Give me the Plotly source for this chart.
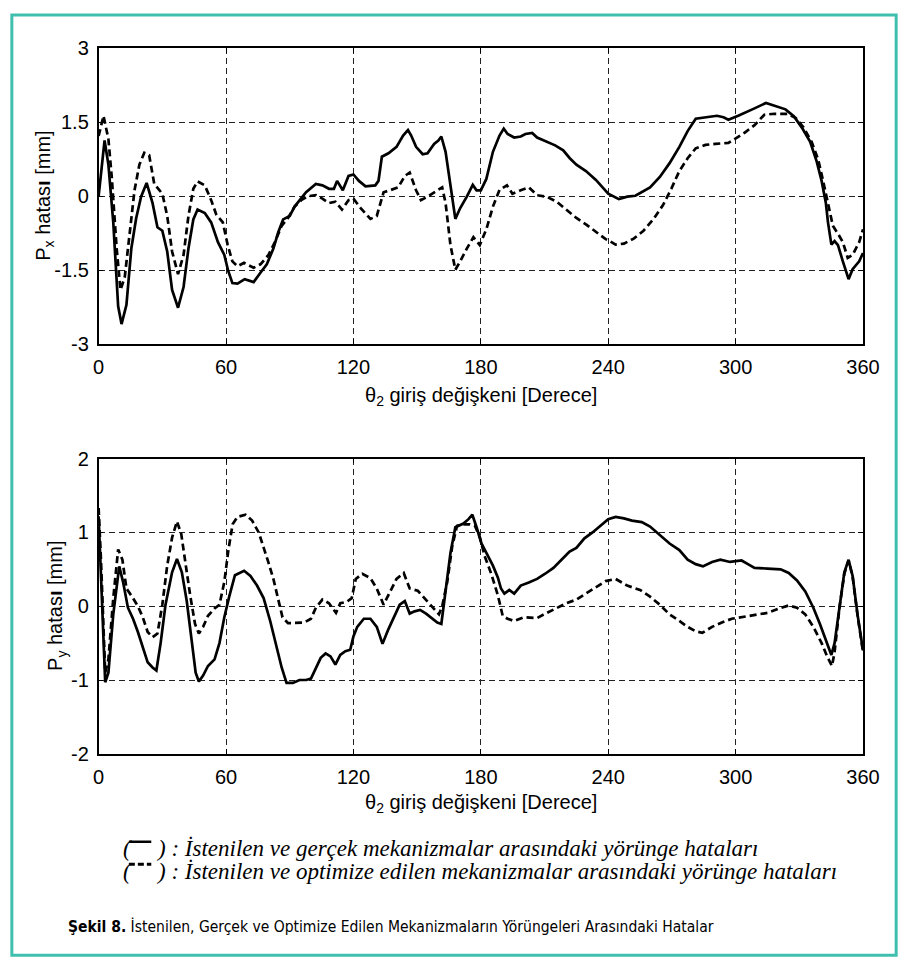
import plotly.graph_objects as go

# ---------------- data ----------------
x_ticks = [0, 60, 120, 180, 240, 300, 360]
top_yticks = [-3, -1.5, 0, 1.5, 3]
top_ytick_text = ["-3", "-1.5", "0", "1.5", "3"]
bot_yticks = [-2, -1, 0, 1, 2]
bot_ytick_text = ["-2", "-1", "0", "1", "2"]

px_real_x = [0, 2.8, 4.6, 6.9, 9.2, 10.8, 13.1, 15.4, 17.7, 20,
             22.6, 25.4, 27.7, 30, 32.3, 34.6, 37.4, 40, 42.3, 44.6,
             46.6, 50, 53, 56.2, 59.2, 61, 63, 65.4, 68.8, 73,
             76.2, 79.2, 82.3, 84.6, 86.9, 90, 92.3, 94.6, 97.7, 102.3,
             105.4, 108.5, 110.8, 112.3, 115, 117.7, 120, 122.6, 125.7, 130.3,
             131.8, 133.4, 136.5, 140.3, 143.4, 145.7, 147.2, 149.5, 152.6, 154.9,
             158, 160, 161.4, 163.4, 165.7, 168, 170.3, 173.4, 176.2, 178,
             180, 182.6, 185.7, 188.8, 190.8, 192.6, 195.7, 198.8, 201, 204.2,
             206.5, 211, 215, 218.8, 221.9, 225, 229.5, 234.2, 238, 240,
             245, 249, 252.8, 256.6, 259.7, 264.3, 268.9, 273.5, 277.4, 281.2,
             285.8, 291.2, 294.3, 296.6, 301.2, 305, 308.9, 314.3, 318.9, 323.5,
             327.4, 331.2, 335.1, 338.2, 340.5, 342.5, 343.5, 345.1, 346.6, 348.2,
             350.5, 352, 353.2, 355.1, 358.2, 360]
px_real_y = [0.0, 1.13, 0.64, -0.53, -2.23, -2.59, -2.2, -1.06, -0.44, -0.01,
             0.27, -0.14, -0.63, -0.70, -1.12, -1.9, -2.26, -1.84, -1.06, -0.47,
             -0.27, -0.34, -0.53, -0.93, -1.19, -1.51, -1.76, -1.77, -1.68, -1.74,
             -1.55, -1.38, -1.06, -0.73, -0.47, -0.40, -0.21, -0.08, 0.08, 0.25,
             0.22, 0.15, 0.15, 0.31, 0.12, 0.41, 0.44, 0.31, 0.20, 0.22,
             0.31, 0.80, 0.87, 1.0, 1.23, 1.34, 1.23, 1.0, 0.85, 0.87,
             1.06, 1.13, 1.21, 0.90, 0.18, -0.46, -0.24, -0.01, 0.23, 0.12,
             0.12, 0.35, 0.90, 1.23, 1.37, 1.26, 1.19, 1.21, 1.26, 1.28,
             1.19, 1.11, 1.03, 0.93, 0.77, 0.64, 0.51, 0.33, 0.15, 0.05,
             -0.06, -0.01, 0.01, 0.10, 0.18, 0.39, 0.67, 1.0, 1.32, 1.57,
             1.60, 1.63, 1.60, 1.55, 1.63, 1.70, 1.78, 1.89, 1.83, 1.76,
             1.62, 1.39, 1.10, 0.70, 0.31, -0.14, -0.53, -0.98, -0.91, -0.99,
             -1.32, -1.51, -1.68, -1.48, -1.32, -1.15]

px_opt_x = [0, 2.3, 4.6, 6.2, 8.5, 10.3, 12.3, 14.6, 16.9, 19.2,
            21.5, 23.8, 26.2, 30, 32.3, 34.6, 37.4, 40, 42.3, 44.6,
            46.6, 50, 53, 55.4, 58.5, 60.8, 63, 65.4, 68.5, 73,
            76.2, 80, 83, 86.2, 89.2, 92.3, 95.4, 98.5, 102.3, 105.4,
            108.5, 111.5, 114.6, 117.7, 120, 123.4, 128, 131, 134.2, 137.2,
            141.1, 144.2, 146.5, 149.5, 151.8, 154.9, 158.8, 161.8, 163.4, 165.7,
            168, 170.3, 173.4, 176.5, 179.5, 182.6, 185.7, 188.8, 192.3, 194.9,
            198.8, 202.6, 206.5, 211, 215.7, 220.3, 225, 229.5, 234.2, 238.8,
            240, 243.5, 247.4, 252, 256.6, 261.2, 265.8, 269.7, 273.5, 277.4,
            281.2, 285.8, 290.5, 296.6, 299.7, 304.3, 308.9, 313.5, 318.2, 324.3,
            328.2, 332, 335.8, 338.9, 341.2, 343.5, 345.8, 348.2, 350.5, 352.8,
            355.1, 358.2, 360]
px_opt_y = [1.22, 1.63, 1.16, 0.38, -1.06, -1.9, -1.64, -0.73, 0.12, 0.64,
            0.88, 0.83, 0.25, 0.05, -0.40, -1.12, -1.58, -1.19, -0.40, 0.15,
            0.30, 0.22, -0.08, -0.37, -0.53, -0.99, -1.32, -1.42, -1.35, -1.45,
            -1.38, -1.19, -0.93, -0.60, -0.44, -0.21, -0.08, 0, 0.02, -0.05,
            -0.14, -0.11, -0.27, -0.08, -0.05, -0.24, -0.46, -0.40, 0.08, 0.12,
            0.18, 0.41, 0.48, 0.12, -0.08, -0.01, 0.10, 0.18, -0.14, -0.99,
            -1.49, -1.32, -1.06, -0.83, -0.99, -0.67, -0.21, 0.13, 0.22, 0.05,
            0.12, 0.18, 0.02, -0.01, -0.11, -0.27, -0.44, -0.57, -0.73, -0.87,
            -0.89, -0.98, -0.96, -0.86, -0.70, -0.47, -0.18, 0.15, 0.51, 0.77,
            0.97, 1.04, 1.06, 1.08, 1.16, 1.29, 1.44, 1.65, 1.67, 1.67,
            1.59, 1.39, 1.10, 0.74, 0.31, -0.14, -0.60, -0.76, -0.93, -1.25,
            -1.19, -0.93, -0.67]

py_real_x = [0, 1.5, 3.1, 4.6, 6.9, 9.7, 11.5, 13.8, 16.2, 18.5,
             20.8, 23.1, 25.4, 27.2, 29.2, 31.5, 34.6, 36.9, 39.2, 41.5,
             43.8, 45.7, 47.2, 49.2, 51.5, 54.6, 56.9, 59.2, 61.5, 64.2,
             68.5, 71.5, 74.6, 77.7, 80.8, 83.8, 86.2, 88.5, 91.5, 94.6,
             97.7, 100, 102.3, 104.6, 106.9, 109.2, 111.5, 113.8, 116.2, 118.5,
             120, 121.8, 124.9, 128, 131, 133.7, 136.5, 139.5, 141.8, 144.2,
             146.5, 148.8, 151.4, 154.2, 157.2, 159.5, 161.4, 163.4, 165.7, 168,
             171.8, 174.2, 176, 178, 180.3, 183.4, 185.7, 188, 189.5, 191.1,
             193.4, 195.7, 198.8, 202.6, 206.5, 210.3, 214.2, 218, 221.8, 225,
             228.8, 232.6, 236.5, 240, 243.5, 247.4, 251.2, 255.8, 259.7, 264.3,
             268.9, 273.5, 277.4, 281.2, 284.6, 288.9, 292.8, 297.4, 302.8, 305.8,
             308.9, 315, 321.2, 325, 328.9, 332.8, 336.6, 339.7, 342.5, 345.1,
             346.6, 349, 351.2, 353.2, 355.1, 357.4, 360]
py_real_y = [1.22, 0.11, -1.03, -0.90, -0.11, 0.54, 0.33, -0.02, -0.17, -0.35,
             -0.55, -0.76, -0.83, -0.87, -0.50, 0.02, 0.46, 0.64, 0.46, 0.07,
             -0.46, -0.90, -1.02, -0.94, -0.81, -0.72, -0.50, -0.15, 0.13, 0.42,
             0.48, 0.41, 0.28, 0.11, -0.20, -0.55, -0.83, -1.04, -1.04, -1.0,
             -1.0, -0.98, -0.85, -0.70, -0.64, -0.68, -0.79, -0.66, -0.61, -0.59,
             -0.41, -0.28, -0.17, -0.17, -0.28, -0.51, -0.31, -0.11, 0.02, 0.07,
             -0.10, -0.07, -0.05, -0.10, -0.17, -0.22, -0.24, 0.24, 0.72, 1.07,
             1.12, 1.18, 1.24, 1.07, 0.85, 0.68, 0.55, 0.39, 0.24, 0.17,
             0.22, 0.17, 0.28, 0.32, 0.37, 0.44, 0.52, 0.63, 0.74, 0.79,
             0.92, 1.0, 1.09, 1.18, 1.21, 1.19, 1.16, 1.14, 1.08, 0.96,
             0.85, 0.76, 0.63, 0.57, 0.54, 0.60, 0.63, 0.60, 0.62, 0.57,
             0.52, 0.51, 0.50, 0.45, 0.35, 0.20, -0.02, -0.24, -0.46, -0.66,
             -0.50, 0.02, 0.46, 0.63, 0.41, -0.11, -0.60]

py_opt_x = [0, 1.1, 3.1, 4.6, 6.9, 9.2, 11.2, 13.1, 16.2, 18.5,
            20.8, 23.1, 25.4, 27.7, 30, 32.3, 34.6, 36.9, 38.9, 40.8,
            43.1, 45.4, 47.2, 49.2, 51.5, 54.6, 56.9, 59.2, 61.1, 63.1,
            65.4, 69.2, 72.3, 75.4, 77.7, 80, 82.3, 84.6, 86.6, 89.2,
            93.1, 96.9, 100, 102.3, 105.4, 108.5, 111.8, 113.8, 116.9, 119.2,
            121.1, 124.2, 128, 131, 134.2, 137.2, 140.3, 143.7, 146.5, 150.3,
            154.2, 158, 160.3, 161.8, 164.2, 166.5, 168.8, 171.8, 174.9, 177.2,
            179.5, 181.8, 184.9, 188, 190.3, 192.6, 195.7, 200.3, 206.5, 211.1,
            215.7, 220.3, 225, 229.5, 234.2, 238.8, 243.5, 248.9, 255, 259.7,
            264.3, 268.9, 273.5, 277.4, 281.2, 284.3, 288.9, 293.5, 298.2, 302.8,
            308.9, 315, 320.5, 325, 328.9, 332.8, 336.6, 340.5, 343.1, 345.4,
            346.6, 349, 351.2, 353.2, 355.1, 357.4, 360]
py_opt_y = [1.33, 0.63, -0.90, -0.72, 0.11, 0.77, 0.63, 0.24, 0.11, 0,
            -0.15, -0.35, -0.42, -0.37, 0.02, 0.55, 0.93, 1.15, 0.98, 0.59,
            0.15, -0.24, -0.37, -0.28, -0.13, -0.03, 0.02, 0.33, 0.76, 1.11,
            1.21, 1.24, 1.16, 1.0, 0.81, 0.59, 0.37, 0.11, -0.15, -0.23,
            -0.22, -0.22, -0.17, -0.02, 0.09, 0.04, -0.09, 0.04, 0.06, 0.11,
            0.37, 0.44, 0.38, 0.24, 0.02, 0.20, 0.37, 0.45, 0.24, 0.21,
            0.09, -0.04, -0.11, 0, 0.33, 0.81, 1.09, 1.11, 1.11, 1.09,
            0.94, 0.68, 0.44, 0.15, -0.13, -0.17, -0.20, -0.15, -0.16, -0.09,
            -0.03, 0.04, 0.09, 0.17, 0.26, 0.34, 0.37, 0.28, 0.22, 0.13,
            0.02, -0.11, -0.20, -0.28, -0.34, -0.36, -0.28, -0.22, -0.17, -0.15,
            -0.12, -0.09, -0.03, 0.01, -0.02, -0.11, -0.28, -0.50, -0.68, -0.81,
            -0.62, 0.0, 0.44, 0.62, 0.40, -0.12, -0.62]

x_title = "θ<sub>2</sub> giriş değişkeni [Derece]"
top_y_title = "P<sub>x</sub> hatas<b>ı</b> [mm]"
bot_y_title = "P<sub>y</sub> hatas<b>ı</b> [mm]"
legend_solid = ") : İstenilen ve gerçek mekanizmalar arasındaki yörünge hataları"
legend_dash = ") : İstenilen ve optimize edilen mekanizmalar arasındaki yörünge hataları"
caption_bold = "Şekil 8."
caption_rest = " İstenilen, Gerçek ve Optimize Edilen Mekanizmaların Yörüngeleri Arasındaki Hatalar"

# ---------------- layout helpers ----------------
W, H = 920, 972
def fx(p):
    return p / W
def fy(p):
    return 1 - p / H

SANS = "Liberation Sans, Arial, Helvetica, sans-serif"
SERIF = "Liberation Serif, Times New Roman, serif"
NARROW = "Liberation Sans Narrow, Arial Narrow, DejaVu Sans Condensed, sans-serif"
TEAL = "#3fbfae"

LW = 2.7
DASH = "7px,4px"

fig = go.Figure()
fig.add_trace(go.Scatter(x=px_opt_x, y=px_opt_y, mode="lines",
                         line=dict(color="black", width=LW, dash=DASH),
                         xaxis="x", yaxis="y", showlegend=False))
fig.add_trace(go.Scatter(x=px_real_x, y=px_real_y, mode="lines",
                         line=dict(color="black", width=LW),
                         xaxis="x", yaxis="y", showlegend=False))
fig.add_trace(go.Scatter(x=py_opt_x, y=py_opt_y, mode="lines",
                         line=dict(color="black", width=LW, dash=DASH),
                         xaxis="x2", yaxis="y2", showlegend=False))
fig.add_trace(go.Scatter(x=py_real_x, y=py_real_y, mode="lines",
                         line=dict(color="black", width=LW),
                         xaxis="x2", yaxis="y2", showlegend=False))

axis_common = dict(
    showline=True, linecolor="black", linewidth=1.6, mirror="ticks",
    ticks="inside", ticklen=5, tickwidth=1, tickcolor="black",
    showgrid=True, gridcolor="#222222", gridwidth=1, griddash="6px,4px",
    zeroline=False, tickfont=dict(family=SANS, size=20, color="black"),
    ticklabelstandoff=4,
)

x_dom = [fx(95), fx(879)]
fig.update_layout(
    width=W, height=H, margin=dict(l=0, r=0, t=0, b=0),
    paper_bgcolor="white", plot_bgcolor="white", showlegend=False,
    xaxis=dict(domain=x_dom, range=[0, 360], tickvals=x_ticks, anchor="y", **axis_common),
    yaxis=dict(domain=[fy(341), fy(38)], range=[-3, 3], tickvals=top_yticks,
               ticktext=top_ytick_text, anchor="x", **axis_common),
    xaxis2=dict(domain=x_dom, range=[0, 360], tickvals=x_ticks, anchor="y2", **axis_common),
    yaxis2=dict(domain=[fy(760), fy(458)], range=[-2, 2], tickvals=bot_yticks,
                ticktext=bot_ytick_text, anchor="x2", **axis_common),
)

ann = []
ann.append(dict(x=fx(487), y=fy(394), xref="paper", yref="paper", text=x_title,
                showarrow=False, font=dict(family=SANS, size=20, color="black"),
                xanchor="center", yanchor="middle"))
ann.append(dict(x=fx(487), y=fy(811), xref="paper", yref="paper", text=x_title,
                showarrow=False, font=dict(family=SANS, size=20, color="black"),
                xanchor="center", yanchor="middle"))
ann.append(dict(x=fx(40), y=fy(189), xref="paper", yref="paper", text=top_y_title,
                showarrow=False, textangle=-90, font=dict(family=SANS, size=20, color="black"),
                xanchor="center", yanchor="middle"))
ann.append(dict(x=fx(52), y=fy(609), xref="paper", yref="paper", text=bot_y_title,
                showarrow=False, textangle=-90, font=dict(family=SANS, size=20, color="black"),
                xanchor="center", yanchor="middle"))

LEG_X = 118
LEG_FS = 23
for yy, txt in [(857, legend_solid), (880, legend_dash)]:
    ann.append(dict(x=fx(LEG_X), y=fy(yy), xref="paper", yref="paper", text="<i>(</i>",
                    showarrow=False, font=dict(family=SERIF, size=LEG_FS, color="black"),
                    xanchor="left", yanchor="middle"))
    ann.append(dict(x=fx(LEG_X + 34), y=fy(yy), xref="paper", yref="paper",
                    text="<i>" + txt + "</i>",
                    showarrow=False, font=dict(family=SERIF, size=LEG_FS, color="black"),
                    xanchor="left", yanchor="middle"))
ann.append(dict(x=fx(62), y=fy(937), xref="paper", yref="paper",
                text="<b>" + caption_bold + "</b>" + caption_rest,
                showarrow=False, font=dict(family=NARROW, size=15.5, color="black"),
                xanchor="left", yanchor="middle"))

shapes = [
    dict(type="rect", xref="paper", yref="paper", x0=fx(6), x1=fx(913), y0=fy(4), y1=fy(966),
         line=dict(color=TEAL, width=3), fillcolor="rgba(0,0,0,0)", layer="below"),
    dict(type="line", xref="paper", yref="paper", x0=fx(LEG_X + 8), x1=fx(LEG_X + 31),
         y0=fy(850), y1=fy(850), line=dict(color="black", width=2.5)),
    dict(type="line", xref="paper", yref="paper", x0=fx(LEG_X + 8), x1=fx(LEG_X + 31),
         y0=fy(873), y1=fy(873), line=dict(color="black", width=3, dash="6px,3px")),
]
fig.update_layout(annotations=ann, shapes=shapes)

fig.write_html("out.html", config={"displayModeBar": False},
               post_script="document.body.style.margin='0';document.body.style.overflow='hidden';")
